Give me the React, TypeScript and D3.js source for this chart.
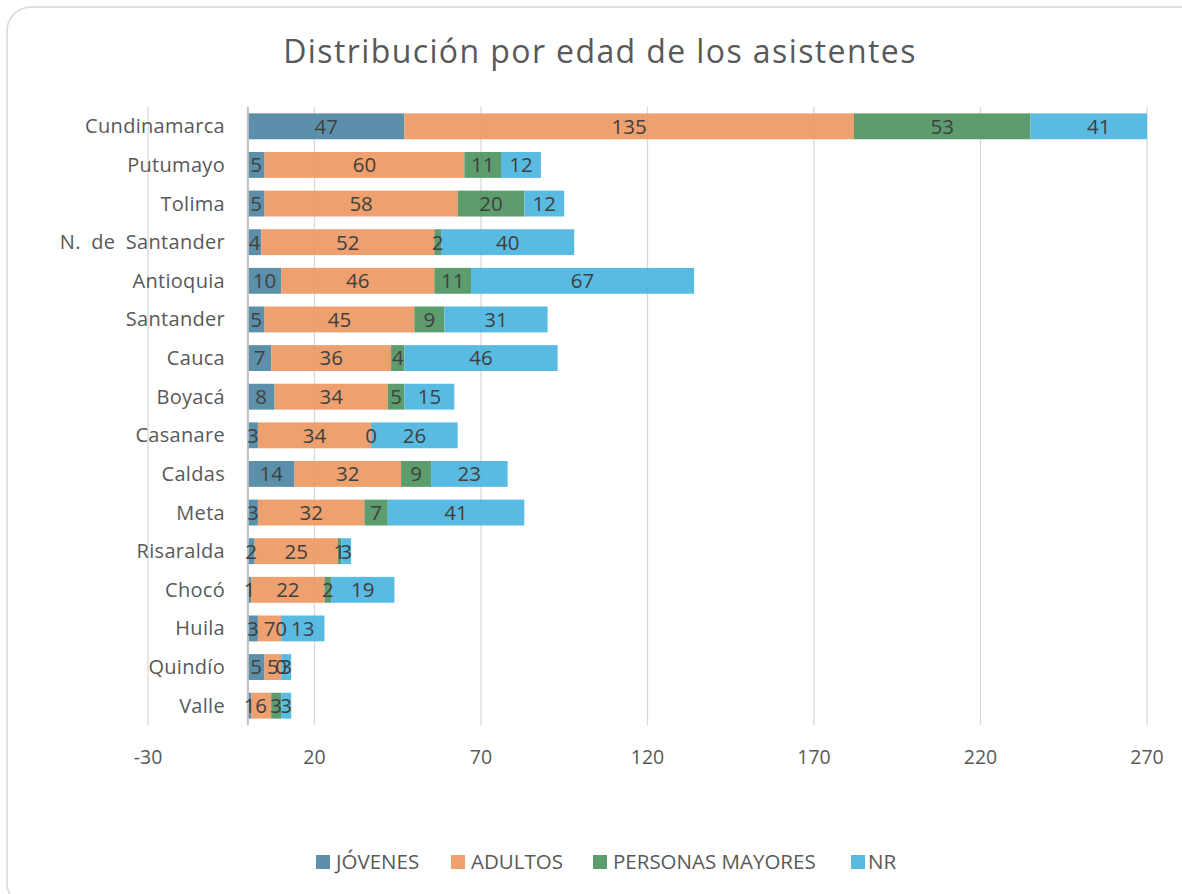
import React from "react";
import * as d3 from "d3";

const categories = [
  "Cundinamarca", "Putumayo", "Tolima", "N. de Santander", "Antioquia", "Santander",
  "Cauca", "Boyacá", "Casanare", "Caldas", "Meta", "Risaralda", "Chocó", "Huila",
  "Quindío", "Valle",
];
const seriesNames = ["JÓVENES", "ADULTOS", "PERSONAS MAYORES", "NR"];
const jovenes = [47, 5, 5, 4, 10, 5, 7, 8, 3, 14, 3, 2, 1, 3, 5, 1];
const adultos = [135, 60, 58, 52, 46, 45, 36, 34, 34, 32, 32, 25, 22, 7, 5, 6];
const mayores = [53, 11, 20, 2, 11, 9, 4, 5, 0, 9, 7, 1, 2, 0, 0, 3];
const nr = [41, 12, 12, 40, 67, 31, 46, 15, 26, 23, 41, 3, 19, 13, 3, 3];
const xTicks = [-30, 20, 70, 120, 170, 220, 270];
const colors = ["#4E87A3", "#ED9862", "#4F9460", "#4BB5DE"];

const W = 1182;
const H = 894;
const FONT = "'Open Sans', 'Noto Sans', sans-serif";

export default function App() {
  const series = [jovenes, adultos, mayores, nr];
  const x = d3.scaleLinear().domain([-30, 270]).range([148, 1147]);
  const y = d3.scaleBand<string>().domain(categories).range([107, 725]).paddingInner(0.33).paddingOuter(0.165);
  const rows = categories.map((c, i) => ({ cat: c, vals: series.map((s) => s[i]) }));
  const stack = d3.stack<any>().keys(["0", "1", "2", "3"]).value((d: any, k) => d.vals[+k]);
  const stacked = stack(rows);
  const xMax = 270;
  const legendPos = [
    { sx: 316, tx: 336 },
    { sx: 451, tx: 471 },
    { sx: 593, tx: 613 },
    { sx: 851, tx: 868 },
  ];
  return (
    <svg width={W} height={H} style={{ position: "absolute", left: 0, top: 0, background: "#fff" }}>
      <rect x={7} y={7} width={1210} height={900} rx={24} ry={24} fill="#fff" stroke="#d9d9d9" strokeWidth={1.5} />
      <text x={600} y={63} textAnchor="middle" fontFamily={FONT} fontSize={32} fill="#595959" letterSpacing={1.4}>
        Distribución por edad de los asistentes
      </text>
      {xTicks.map((t) => (
        <line key={t} x1={x(t)} x2={x(t)} y1={107} y2={725} stroke="#d9d9d9" strokeWidth={1.3} />
      ))}
      {stacked.map((layer, si) => (
        <g key={si}>
          {layer.map((d, i) => {
            const a = Math.min(d[0], xMax);
            const b = Math.min(d[1], xMax);
            return (
              <rect key={i} x={x(a)} y={y(categories[i])} width={Math.max(0, x(b) - x(a))} height={y.bandwidth()}
                fill={colors[si]} fillOpacity={0.92} />
            );
          })}
        </g>
      ))}
      <line x1={x(0)} x2={x(0)} y1={107} y2={725} stroke="#bfbfbf" strokeWidth={2} />
      {stacked.map((layer, si) => (
        <g key={"l" + si}>
          {layer.map((d, i) => {
            const a = Math.min(d[0], xMax);
            const b = Math.min(d[1], xMax);
            const v = series[si][i];
            const cx = (x(a) + x(b)) / 2 + (d[1] > xMax ? 10 : 0);
            return (
              <text key={i} x={cx} y={(y(categories[i]) as number) + y.bandwidth() / 2} dy="0.36em" textAnchor="middle"
                fontFamily={FONT} fontSize={20.5} fill="#404040">
                {v}
              </text>
            );
          })}
        </g>
      ))}
      {categories.map((c) => (
        <text key={c} x={225} y={(y(c) as number) + y.bandwidth() / 2} dy="0.35em" textAnchor="end"
          fontFamily={FONT} fontSize={20} letterSpacing={0.3} wordSpacing={5} fill="#595959">
          {c}
        </text>
      ))}
      {xTicks.map((t) => (
        <text key={"t" + t} x={x(t)} y={757} dy="0.35em" textAnchor="middle" fontFamily={FONT} fontSize={19.5} fill="#595959">
          {t}
        </text>
      ))}
      {seriesNames.map((n, i) => (
        <g key={n}>
          <rect x={legendPos[i].sx} y={855} width={14} height={14} fill={colors[i]} fillOpacity={0.92} />
          <text x={legendPos[i].tx} y={862} dy="0.36em" fontFamily={FONT} fontSize={20.5} fill="#595959">
            {n}
          </text>
        </g>
      ))}
    </svg>
  );
}
